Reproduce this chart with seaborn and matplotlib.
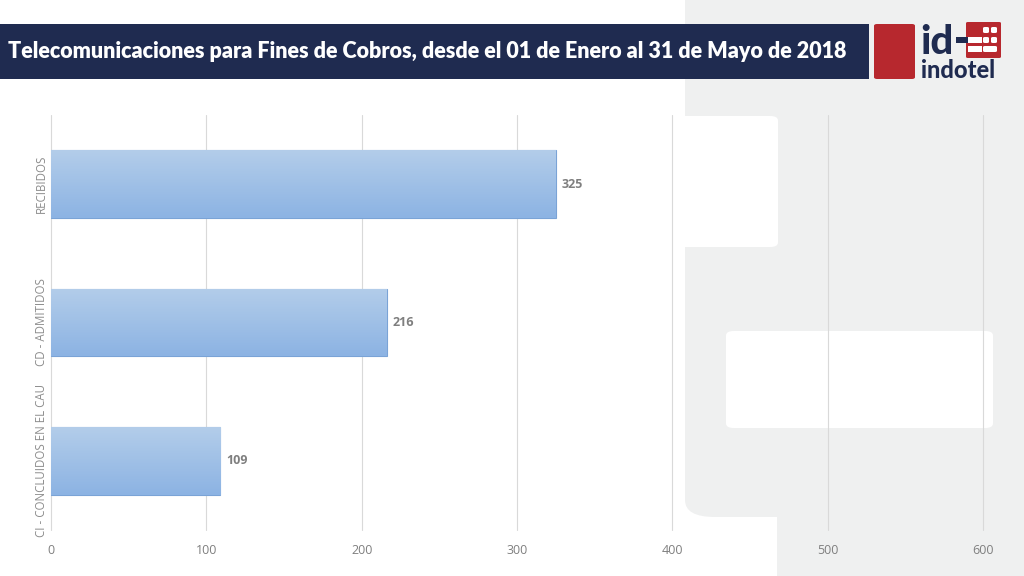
import numpy as np
import pandas as pd
import matplotlib
matplotlib.use('Agg')
import matplotlib.pyplot as plt
from matplotlib.patches import Rectangle, FancyBboxPatch
import seaborn as sns

# data
categorias = ['RECIBIDOS', 'CD - ADMITIDOS', 'CI - CONCLUIDOS EN EL CAU']
valores = [325, 216, 109]
x_ticks = [0, 100, 200, 300, 400, 500, 600]
titulo = 'Telecomunicaciones para Fines de Cobros, desde el 01 de Enero al 31 de Mayo de 2018'

df = pd.DataFrame({'categoria': categorias, 'valor': valores})

sns.set_style('white')
plt.rcParams['font.family'] = ['Open Sans', 'DejaVu Sans']

fig = plt.figure(figsize=(10.24, 5.76), dpi=100)
W, H = 1024, 576
navy = '#1f2b50'
red = '#b7282e'
grey_bg = '#eff0f0'

def px(x0, y0, x1, y1):
    # pixel box -> figure fraction (x, y, w, h)
    return x0 / W, 1 - y1 / H, (x1 - x0) / W, (y1 - y0) / H

def box(x0, y0, x1, y1, color, r=0, z=0):
    x, y, w, h = px(x0, y0, x1, y1)
    if r:
        p = FancyBboxPatch((x, y), w, h, boxstyle='round,pad=0,rounding_size=%f' % (r / W),
                           transform=fig.transFigure, color=color, zorder=z, lw=0)
    else:
        p = Rectangle((x, y), w, h, transform=fig.transFigure, color=color, zorder=z, lw=0)
    fig.patches.append(p)

# background decoration on the right
box(685, -40, 1060, 517, grey_bg, r=30, z=0)
box(777, 300, 1060, 600, grey_bg, z=0)
box(660, 116, 778, 247, 'white', r=8, z=0.1)
box(726, 331, 993, 428, 'white', r=8, z=0.1)

# title banner
box(0, 24, 869, 79, navy, z=1)
fig.text(8 / W, 1 - 51 / H, titulo, color='white', fontsize=15.5, fontweight='heavy',
         family=['Lato', 'DejaVu Sans'], va='center', ha='left', zorder=2)
box(874, 24, 915, 79, red, r=3, z=1)
# logo
fig.text(920 / W, 1 - 43 / H, 'id', color=navy, fontsize=29, fontweight='black',
         family=['Lato', 'DejaVu Sans'], va='center', ha='left', zorder=2)
fig.text(921 / W, 1 - 71 / H, 'indotel', color=navy, fontsize=17, fontweight='black',
         family=['Lato', 'DejaVu Sans'], va='center', ha='left', zorder=2)
box(966, 22, 1001, 58, red, r=2, z=1)
box(956, 37, 970, 43, navy, z=1.5)
box(968, 37, 982, 43, 'white', z=2)
box(968, 46, 982, 52, 'white', z=2)
for cx in [986, 994]:
    for cy in [30, 40]:
        box(cx - 3, cy - 3, cx + 3, cy + 3, 'white', r=2, z=2)
box(983, 46, 997, 52, 'white', r=2, z=2)

ax = fig.add_axes(px(51, 115, 983, 530))
ax.set_zorder(5)
ax.patch.set_alpha(0)
sns.barplot(data=df, y='categoria', x='valor', orient='h', width=0.49,
            color='#9fbfe6', edgecolor='#7aa3d6', linewidth=0.8, ax=ax, zorder=3)

# gradient fill clipped to each bar
grad = np.linspace(0, 1, 100).reshape(-1, 1)
cmap = matplotlib.colors.LinearSegmentedColormap.from_list('g', ['#b3cdea', '#8cb3e3'])
for p in ax.patches:
    x0, y0 = p.get_x(), p.get_y()
    w, h = p.get_width(), p.get_height()
    im = ax.imshow(grad, extent=[x0, x0 + w, y0 + h, y0], cmap=cmap, aspect='auto', zorder=3.5)
    im.set_clip_path(p)

ax.set_xlim(0, 600)
ax.set_ylim(2.5, -0.5)
ax.set_xticks(x_ticks)
ax.set_xticklabels([str(t) for t in x_ticks])
ax.grid(axis='x', color='#d9d9d9', linewidth=0.8, zorder=0)
for gl in ax.get_xgridlines():
    gl.set_clip_on(False)
ax.set_axisbelow(True)
for s in ax.spines.values():
    s.set_visible(False)
ax.set_xlabel('')
ax.set_ylabel('')
ax.tick_params(axis='both', length=0, colors='#7f7f7f', labelsize=9)
ax.tick_params(axis='x', pad=10)
ax.tick_params(axis='y', pad=7)
for lab in ax.get_yticklabels():
    lab.set_rotation(90)
    lab.set_va('center')
    lab.set_ha('center')
    lab.set_color('#8c8c8c')
    lab.set_fontsize(8.3)

for i, v in enumerate(valores):
    ax.text(v + 4, i, str(v), va='center', ha='left', fontsize=9, fontweight='bold', color='#7f7f7f', zorder=5)

fig.savefig('out.png', dpi=100)
